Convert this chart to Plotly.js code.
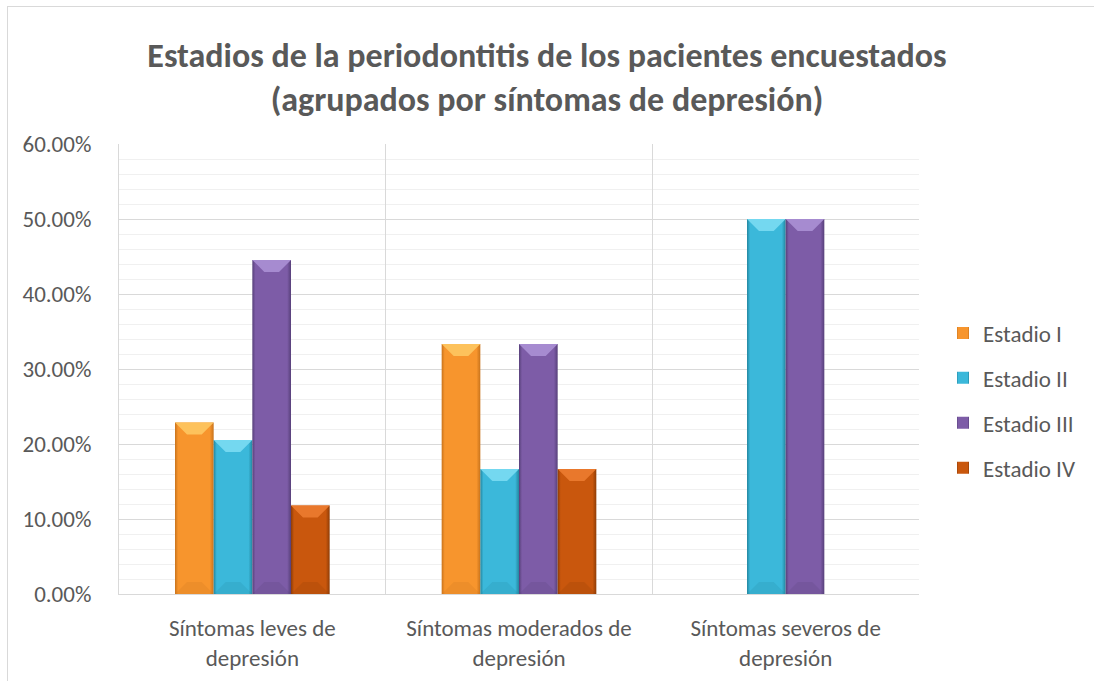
<!DOCTYPE html>
<html>
<head>
<meta charset="utf-8">
<script src="https://cdn.plot.ly/plotly-3.0.1.min.js"></script>
<style>
  html, body { margin: 0; padding: 0; background: #fff; }
  #frame { position: absolute; left: 7px; top: 6px; width: 1100px; height: 700px;
           border: 1px solid #d9d9d9; box-sizing: border-box; }
  #chart { position: absolute; left: 0; top: 0; width: 1094px; height: 681px; }
</style>
</head>
<body>
<div id="frame"></div>
<div id="chart"></div>
<script>
// Categories (depression symptom groups) and share of patients per periodontitis stage
const categories = ['Síntomas leves de<br>depresión', 'Síntomas moderados de<br>depresión', 'Síntomas severos de<br>depresión'];
const seriesNames = ['Estadio I', 'Estadio II', 'Estadio III', 'Estadio IV'];
const estadioI   = [0.2286, 0.3333, 0];
const estadioII  = [0.2055, 0.1667, 0.50];
const estadioIII = [0.4455, 0.3333, 0.50];
const estadioIV  = [0.1180, 0.1667, 0];
const seriesColors = ['#f7952d', '#3bb8da', '#7d5ca7', '#c9570d'];
// lighter tone for the bevelled top and darker tone for the bar edges
const bevelLight = ['#fdc25c', '#74d8f0', '#a68bd0', '#e9782c'];
const bevelDark  = ['#c8731c', '#23869f', '#57407a', '#8e3c06'];
const yTickValues = [0, 0.1, 0.2, 0.3, 0.4, 0.5, 0.6];

const values = [estadioI, estadioII, estadioIII, estadioIV];
const font = 'Carlito, Calibri, "Open Sans", sans-serif';
const textColor = '#595959';

const traces = values.map((v, i) => ({
  type: 'bar',
  name: seriesNames[i],
  legendgroup: 'g' + i,
  x: categories,
  y: v,
  marker: { color: seriesColors[i], line: { width: 0 } },
  hoverinfo: 'none'
}));

const layout = {
  width: 1094, height: 681,
  margin: { l: 119, r: 175, t: 144, b: 87 },
  paper_bgcolor: 'rgba(0,0,0,0)',
  plot_bgcolor: '#fff',
  barmode: 'group',
  bargap: 0.42,
  bargroupgap: 0,
  title: {
    text: '<b>Estadios de la periodontitis de los pacientes encuestados<br>(agrupados por síntomas de depresión)</b>',
    x: 0.5, xref: 'container', xanchor: 'center',
    y: 0.902, yref: 'container', yanchor: 'top',
    font: { family: font, size: 34, color: textColor }
  },
  xaxis: {
    type: 'category',
    tickson: 'boundaries',
    showgrid: true, gridcolor: '#d9d9d9', gridwidth: 1,
    ticks: '', showline: true, linecolor: '#d9d9d9', linewidth: 1,
    ticklabelstandoff: 13,
    tickfont: { family: font, size: 23, color: textColor },
    fixedrange: true
  },
  yaxis: {
    range: [0, 0.6],
    tickvals: yTickValues,
    tickformat: '.2%',
    showgrid: true, gridcolor: '#d9d9d9', gridwidth: 1,
    minor: { dtick: 0.02, showgrid: true, gridcolor: '#f0f0f0', gridwidth: 1 },
    zeroline: false,
    showline: true, linecolor: '#d9d9d9', linewidth: 1,
    ticks: '', ticklabelstandoff: 22,
    tickfont: { family: font, size: 23, color: textColor },
    fixedrange: true
  },
  legend: {
    x: 1.03, xanchor: 'left', y: 0.43, yanchor: 'middle',
    font: { family: font, size: 23, color: textColor },
    tracegroupgap: 12, itemwidth: 30,
    bgcolor: 'rgba(0,0,0,0)'
  },
  showlegend: true
};

function svgEl(tag, attrs) {
  const el = document.createElementNS('http://www.w3.org/2000/svg', tag);
  for (const k in attrs) el.setAttribute(k, attrs[k]);
  return el;
}

// Give each bar a bevelled look: darker side edges and a lighter top facet
function addBevels(gd) {
  const svg = gd.querySelector('.main-svg');
  const defs = svg.querySelector('defs');
  seriesColors.forEach((c, i) => {
    const g = svgEl('linearGradient', { id: 'bevel' + i, x1: '0', y1: '0', x2: '1', y2: '0' });
    [[0, bevelDark[i]], [0.08, c], [0.5, c], [0.9, c], [1, bevelDark[i]]].forEach(([o, col]) => {
      g.appendChild(svgEl('stop', { offset: o, 'stop-color': col }));
    });
    defs.appendChild(g);
  });
  gd.querySelectorAll('.barlayer .trace').forEach((tr, i) => {
    tr.querySelectorAll('.point path').forEach(p => {
      const b = p.getBBox();
      if (b.height < 1) return;
      p.style.fill = 'url(#bevel' + i + ')';
      const d = Math.min(12, b.width / 3, b.height / 2);
      const top = svgEl('path', {
        d: `M${b.x},${b.y}L${b.x + b.width},${b.y}L${b.x + b.width - d},${b.y + d}L${b.x + d},${b.y + d}Z`,
        fill: bevelLight[i]
      });
      const bot = svgEl('path', {
        d: `M${b.x},${b.y + b.height}L${b.x + b.width},${b.y + b.height}L${b.x + b.width - d},${b.y + b.height - d}L${b.x + d},${b.y + b.height - d}Z`,
        fill: bevelDark[i], 'fill-opacity': 0.2
      });
      p.parentNode.appendChild(top);
      p.parentNode.appendChild(bot);
    });
  });
  gd.querySelectorAll('.legend .traces').forEach((tr, i) => {
    const p = tr.querySelector('.legendpoints path');
    if (p) { p.style.fill = 'url(#bevel' + i + ')'; }
  });
}

Plotly.newPlot('chart', traces, layout, { displayModeBar: false, staticPlot: true })
  .then(addBevels);
</script>
</body>
</html>
